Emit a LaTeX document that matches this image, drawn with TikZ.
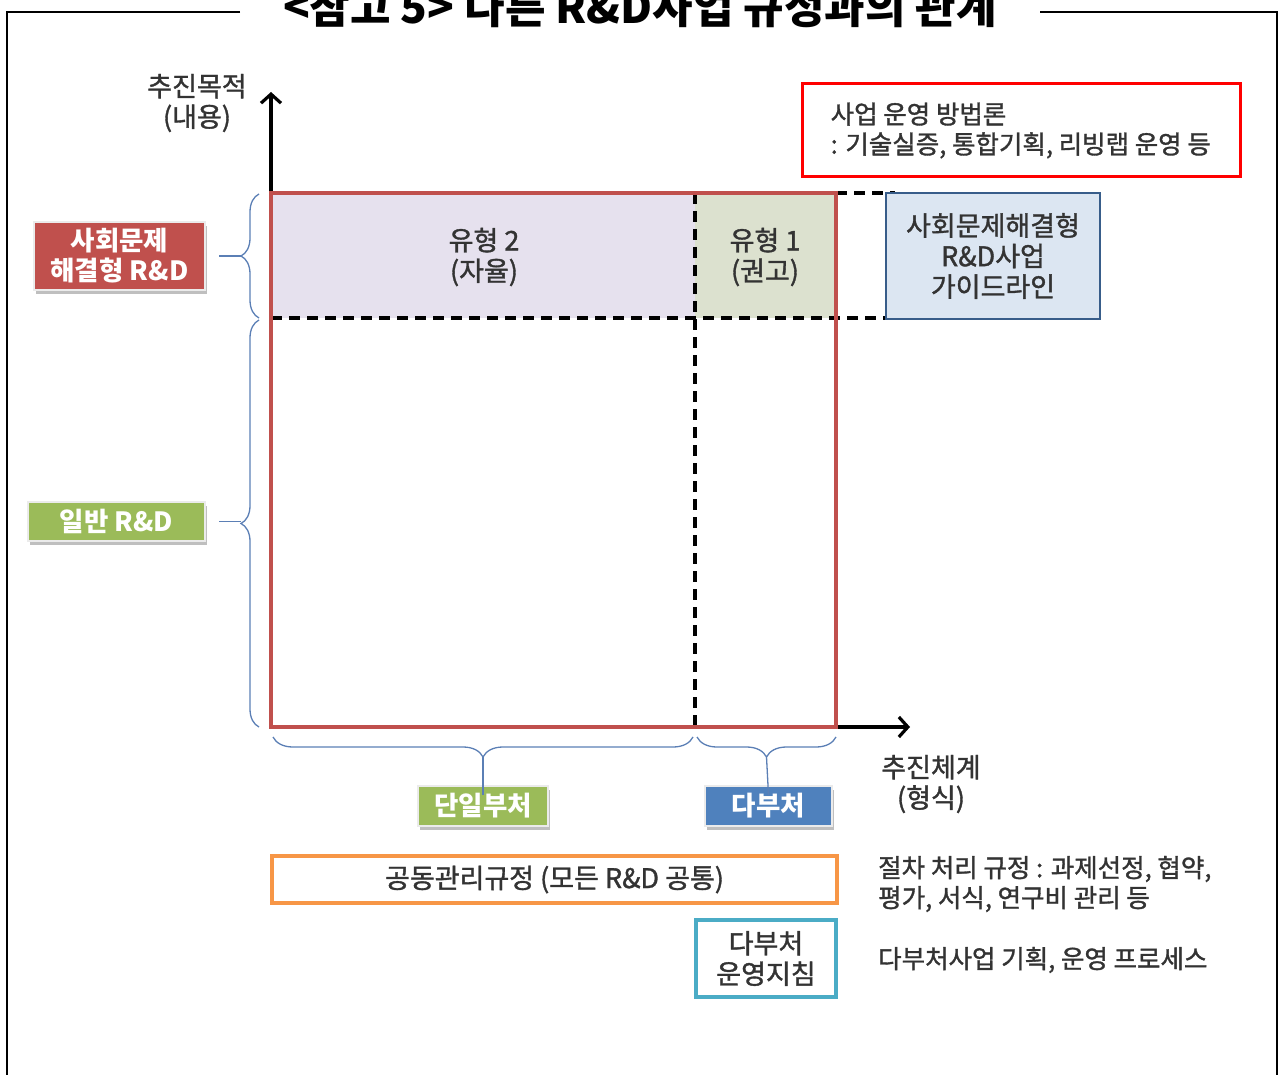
\documentclass[tikz,border=0pt]{standalone}
\usepackage{fontspec}
\setmainfont{Noto Sans CJK KR}
\newfontfamily\medfont{Noto Sans CJK KR}[FakeBold=1.3]
\usetikzlibrary{arrows.meta,decorations.pathreplacing,shadows}
\definecolor{txt}{HTML}{333333}
\definecolor{lav}{HTML}{E6E1EE}
\definecolor{grn}{HTML}{DCE1CF}
\definecolor{rectc}{HTML}{C0504D}
\definecolor{guidefill}{HTML}{DCE6F2}
\definecolor{guidedraw}{HTML}{385D8A}
\definecolor{lgreen}{HTML}{9BBB59}
\definecolor{lblue}{HTML}{4F81BD}
\definecolor{lorange}{HTML}{F79646}
\definecolor{lcyan}{HTML}{4BACC6}
\definecolor{bracec}{HTML}{5B7FB5}
\tikzset{
  body/.style={text=txt, font=\medfont\fontsize{27}{30.5}\selectfont, align=center, inner sep=0},
  side/.style={text=txt, font=\medfont\fontsize{25.5}{30}\selectfont, align=left, inner sep=0},
  dashline/.style={line width=3.2pt, dash pattern=on 11pt off 7pt, black},
  labelbox/.style={fill=#1, draw=white!92!black, line width=2pt, text=white,
     font=\fontsize{26.5}{30}\selectfont\bfseries, align=center, inner sep=0,
     drop shadow={shadow xshift=2pt, shadow yshift=-4pt, opacity=0.25, fill=black}},
  bracestyle/.style={draw=bracec, line width=1.3pt},
  axis/.style={line width=3.2pt, -{Straight Barb[length=9pt,width=20pt,line width=3.2pt]}},
}
\begin{document}
\begin{tikzpicture}[x=1pt,y=-1pt]
\useasboundingbox (0,0) rectangle (1284,1075);
% frame and title
\draw[line width=1.5pt] (240,12) -- (7,12) -- (7,1080);
\draw[line width=1.5pt] (1040,12) -- (1277,12) -- (1277,1080);
\node[anchor=base, text=black, font=\fontsize{44}{44}\selectfont\bfseries, inner sep=0] (title) at (640,24) {<참고 5> 다른 R\&D사업 규정과의 관계};

% quadrant fills
\fill[lav] (271,193) rectangle (695,318);
\fill[grn] (695,193) rectangle (836,318);

% dashed lines
\draw[dashline] (271,318) -- (895,318);
\draw[dashline] (836,193) -- (895,193);
\draw[dashline] (695,193) -- (695,727);

% axes
\coordinate (origin) at (271,727);
\coordinate (ytip) at (271,92);
\coordinate (xtip) at (910,727);
\draw[axis] (origin) -- (ytip);
\draw[axis] (origin) -- (xtip);

% red main rectangle
\draw[rectc, line width=4pt] (271,193) rectangle (836,727);

% quadrant labels
\node[body] (type2) at (484,257) {유형 2\\(자율)};
\node[body] (type1) at (765,257) {유형 1\\(권고)};

% axis labels
\node[body] (ylab) at (197,103) {추진목적\\(내용)};
\node[body] (xlab) at (931,784) {추진체계\\(형식)};

% method box
\node[draw=red, line width=3pt, minimum width=438pt, minimum height=93pt, inner sep=0] (method) at (1021,130.5) {};
\node[side, anchor=west] (methodtxt) at ([xshift=30pt]method.west) {사업 운영 방법론\\: 기술실증, 통합기획, 리빙랩 운영 등};

% guideline box
\node[draw=guidedraw, fill=guidefill, line width=2.6pt, minimum width=214pt, minimum height=126pt,
      body] (guide) at (993,256) {사회문제해결형\\R\&D사업\\가이드라인};

% left labels
\node[labelbox=rectc, minimum width=171pt, minimum height=68pt] (soc) at (119.5,256) {사회문제\\해결형 R\&D};
\node[labelbox=lgreen, minimum width=177pt, minimum height=39pt] (gen) at (116.5,521.5) {일반 R\&D};

% bottom labels
\node[labelbox=lgreen, minimum width=130pt, minimum height=40pt] (single) at (483,806) {단일부처};
\node[labelbox=lblue, minimum width=127pt, minimum height=40pt] (multi) at (768.5,806) {다부처};

% left braces
\draw[bracestyle, decorate, decoration={brace, amplitude=18pt}] (259,318) -- (259,194);
\draw[bracestyle] (241,256) -- ([xshift=13pt]soc.east);
\draw[bracestyle, decorate, decoration={brace, amplitude=18pt}] (259,727) -- (259,320);
\draw[bracestyle] (241,521.5) -- ([xshift=13pt]gen.east);

% bottom braces
\draw[bracestyle, decorate, decoration={brace, amplitude=20pt}] (693,737) -- (273,737);
\draw[bracestyle] (483,757) -- ([yshift=-10pt]single.north);
\draw[bracestyle, decorate, decoration={brace, amplitude=20pt}] (836,737) -- (697,737);
\draw[bracestyle] (766.5,757) -- ([yshift=-10pt]multi.north);

% bottom boxes
\node[draw=lorange, line width=3.5pt, minimum width=565pt, minimum height=47pt, body] (common) at (554.5,879.5) {공동관리규정 (모든 R\&D 공통)};
\node[draw=lcyan, line width=3.5pt, minimum width=140pt, minimum height=77pt, body] (mguide) at (766,958.5) {다부처\\운영지침};

\node[side, anchor=west] (commontxt) at (878,884) {절차 처리 규정 : 과제선정, 협약,\\평가, 서식, 연구비 관리 등};
\node[side, anchor=west] (mguidetxt) at (878,960) {다부처사업 기획, 운영 프로세스};
\end{tikzpicture}
\end{document}
